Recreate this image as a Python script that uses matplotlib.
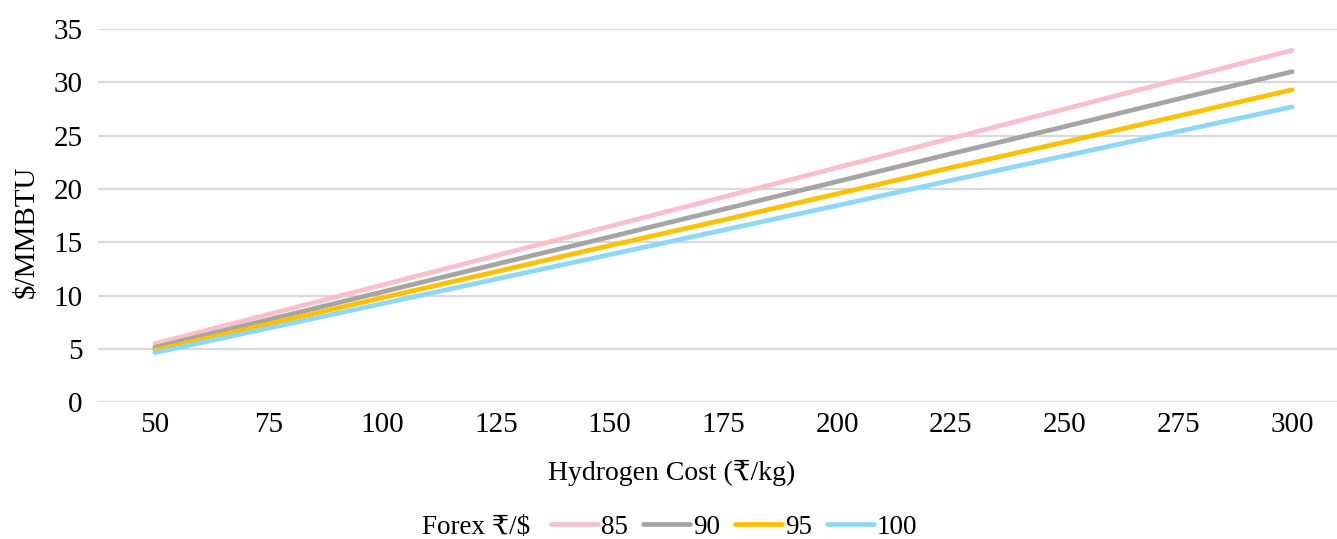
import matplotlib
matplotlib.use("Agg")
import matplotlib.pyplot as plt

plt.rcParams['font.family'] = ['Liberation Serif', 'DejaVu Serif', 'DejaVu Sans']

hydrogen_cost = [50, 75, 100, 125, 150, 175, 200, 225, 250, 275, 300]
forex_labels = ["85", "90", "95", "100"]
usd_85 = [5.5, 8.25, 11.0, 13.75, 16.5, 19.25, 22.0, 24.75, 27.5, 30.25, 33.0]
usd_90 = [5.15, 7.75, 10.35, 12.95, 15.5, 18.1, 20.7, 23.3, 25.85, 28.45, 31.0]
usd_95 = [4.9, 7.35, 9.8, 12.25, 14.7, 17.1, 19.55, 22.0, 24.4, 26.85, 29.3]
usd_100 = [4.65, 6.95, 9.25, 11.55, 13.85, 16.15, 18.45, 20.8, 23.1, 25.4, 27.7]
series = [usd_85, usd_90, usd_95, usd_100]
colors = ["#F8C0CA", "#A5A5A5", "#FFC000", "#8DD7F7"]

W, H = 1337, 539
fig = plt.figure(figsize=(W / 100, H / 100), dpi=100)
ax = fig.add_axes([98 / W, (H - 402.3) / H, 1251 / W, 373.3 / H])

x = list(range(len(hydrogen_cost)))
handles = []
for vals, c, lab in zip(series, colors, forex_labels):
    h, = ax.plot(x, vals, color=c, lw=3.4, solid_capstyle='round', label=lab, zorder=3)
    handles.append(h)

ax.set_xlim(-0.5, len(x) - 0.5)
ax.set_ylim(0, 35)
ax.set_yticks(range(0, 36, 5))
ax.set_xticks(x)
ax.set_xticklabels([str(v) for v in hydrogen_cost])
ax.yaxis.grid(True, color="#D9D9D9", lw=1.6)
ax.set_axisbelow(True)
for s in ax.spines.values():
    s.set_visible(False)
ax.tick_params(axis='both', length=0, labelsize=21, colors='black')
ax.tick_params(axis='y', pad=11)
ax.tick_params(axis='x', pad=7)

ax.set_xlabel("Hydrogen Cost (₹/kg)", fontsize=20)
ax.xaxis.set_label_coords((672 - 98) / 1251, (402.3 - 473) / 373.3)
ax.xaxis.label.set_va('center')
ax.set_ylabel("$/MMBTU", fontsize=21)
ax.yaxis.set_label_coords((27 - 98) / 1251, (402.3 - 232) / 373.3)
ax.yaxis.label.set_va('center')

fig.text(422 / W, 1 - 527 / H, "Forex ₹/$", fontsize=19.5, va='center', ha='left')
fig.legend(handles=handles, labels=forex_labels, loc='center left',
           bbox_to_anchor=(551 / W, 1 - 527 / H), ncol=4, frameon=False,
           fontsize=19.5, handlelength=1.75, handletextpad=0.1, columnspacing=0.55,
           borderaxespad=0, borderpad=0)

fig.savefig("out.png", dpi=100)
